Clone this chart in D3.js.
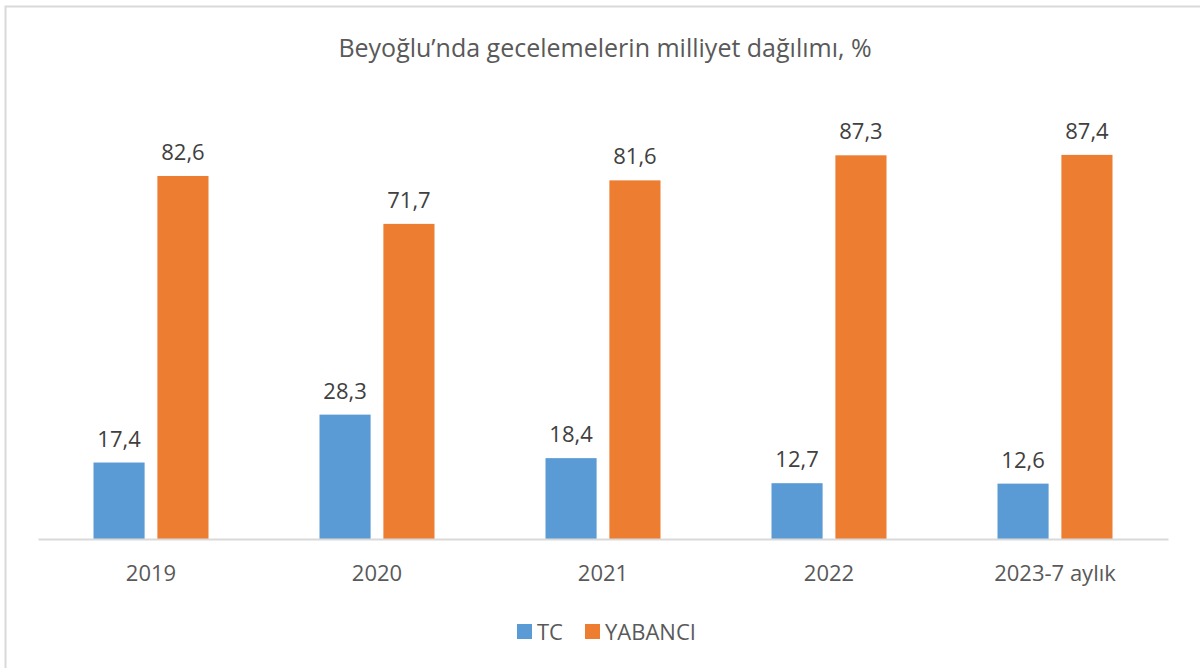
<!DOCTYPE html>
<html lang="tr">
<head>
    <meta charset="UTF-8">
    <script type="text/javascript" src="https://d3js.org/d3.v7.min.js"></script>
    <title>Beyoğlu gecelemeler</title>
    <style>
        body { margin: 0; background: #fff; }
        text { font-family: "Open Sans", "Noto Sans", sans-serif; }
    </style>
</head>
<body>
    <svg id="chart"></svg>
    <script>
        const years = ["2019", "2020", "2021", "2022", "2023-7 aylık"];
        const tc = [17.4, 28.3, 18.4, 12.7, 12.6];
        const yabanci = [82.6, 71.7, 81.6, 87.3, 87.4];
        const seriesNames = ["TC", "YABANCI"];
        const colors = ["#5b9bd5", "#ed7d31"];

        const width = 1200, height = 668;
        const svg = d3.select("#chart").attr("width", width).attr("height", height);

        // chart frame
        svg.append("rect").attr("x", 5.5).attr("y", 6.5)
            .attr("width", 1200).attr("height", 680)
            .attr("fill", "#fff").attr("stroke", "#d9d9d9").attr("stroke-width", 2);

        svg.append("text").attr("x", 605).attr("y", 57)
            .attr("text-anchor", "middle").attr("font-size", 25).attr("fill", "#595959")
            .text("Beyoğlu’nda gecelemelerin milliyet dağılımı, %");

        const x = d3.scaleBand().domain(years).range([38, 1168]);
        const inner = d3.scaleBand().domain(seriesNames).range([-57.5, 57.5]).paddingInner(0.2);
        const y = d3.scaleLinear().domain([0, 100]).range([539, 99.5]);

        const rows = years.map((yr, i) => ({ year: yr, values: [tc[i], yabanci[i]] }));

        const groups = svg.selectAll("g.cat").data(rows).join("g")
            .attr("class", "cat")
            .attr("transform", d => `translate(${x(d.year) + x.bandwidth() / 2},0)`);

        groups.selectAll("rect").data(d => d.values.map((v, j) => ({ v, s: seriesNames[j], c: colors[j] })))
            .join("rect")
            .attr("x", d => inner(d.s))
            .attr("y", d => y(d.v))
            .attr("width", inner.bandwidth())
            .attr("height", d => y(0) - y(d.v))
            .attr("fill", d => d.c);

        groups.selectAll("text.val").data(d => d.values.map((v, j) => ({ v, s: seriesNames[j] })))
            .join("text").attr("class", "val")
            .attr("x", d => inner(d.s) + inner.bandwidth() / 2)
            .attr("y", d => y(d.v) - 16)
            .attr("text-anchor", "middle").attr("font-size", 22).attr("fill", "#404040")
            .text(d => d3.format(".1f")(d.v).replace(".", ","));

        const xAxis = svg.append("g").attr("transform", `translate(0,${y(0)})`)
            .call(d3.axisBottom(x).tickSize(0).tickPadding(26));
        xAxis.select(".domain").attr("stroke", "#d9d9d9").attr("stroke-width", 2);
        xAxis.selectAll("text").attr("font-size", 22).attr("fill", "#595959")
            .style("font-family", "'Open Sans', 'Noto Sans', sans-serif");

        const legend = svg.append("g").attr("transform", "translate(517,624)");
        const lx = [0, 68];
        seriesNames.forEach((s, i) => {
            const g = legend.append("g").attr("transform", `translate(${lx[i]},0)`);
            g.append("rect").attr("width", 15).attr("height", 15).attr("fill", colors[i]);
            g.append("text").attr("x", 20).attr("y", 16).attr("font-size", 22).attr("fill", "#595959").text(s);
        });
    </script>
</body>
</html>
